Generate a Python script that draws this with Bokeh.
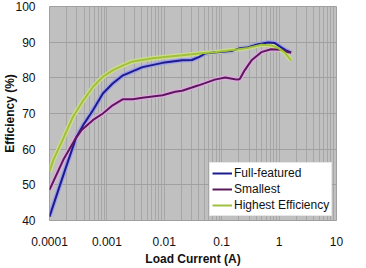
from bokeh.plotting import figure
from bokeh.models import FixedTicker, CustomJSTickFormatter, Legend, LegendItem, Range1d
from bokeh.embed import file_html
from bokeh.resources import INLINE

# Load current (A)
x_full = [0.0001, 0.000141, 0.000214, 0.000295, 0.000389, 0.000575, 0.000851, 0.00126,
          0.00191, 0.00417, 0.00933, 0.0204, 0.0302, 0.0398, 0.0513, 0.0759, 0.148,
          0.195, 0.288, 0.427, 0.646, 0.832, 1.07, 1.32, 1.62]
y_full = [41.1, 48.3, 57.0, 63.5, 66.8, 71.0, 75.6, 78.4,
          80.7, 83.0, 84.2, 84.9, 85.0, 85.8, 86.8, 87.1, 87.5,
          88.2, 88.6, 89.4, 89.9, 89.8, 88.6, 87.7, 87.1]

x_small = [0.0001, 0.000174, 0.000275, 0.000363, 0.000575, 0.000851, 0.00126, 0.00191,
           0.00282, 0.00417, 0.00933, 0.0155, 0.0204, 0.0398, 0.0759, 0.115, 0.170,
           0.195, 0.209, 0.251, 0.331, 0.490, 0.724, 1.07, 1.41, 1.62]
y_small = [48.6, 57.0, 62.6, 65.4, 68.2, 70.0, 72.3, 74.0,
           74.0, 74.4, 75.1, 76.1, 76.4, 77.9, 79.5, 80.1, 79.6,
           79.5, 79.8, 82.1, 84.9, 87.2, 88.0, 87.9, 87.2, 87.1]

x_high = [0.0001, 0.000117, 0.000174, 0.000257, 0.000389, 0.000575, 0.000851, 0.00126,
          0.00191, 0.00282, 0.00631, 0.0204, 0.0398, 0.0759, 0.170, 0.288, 0.490,
          0.724, 0.955, 1.23, 1.62]
y_high = [53.7, 57.0, 63.0, 69.1, 73.7, 77.5, 80.3, 82.1,
          83.5, 84.6, 85.5, 86.3, 86.8, 87.2, 87.9, 88.4, 89.3,
          89.1, 88.4, 87.2, 84.9]

x_ticks = [0.0001, 0.001, 0.01, 0.1, 1, 10]
y_ticks = [40, 50, 60, 70, 80, 90, 100]
x_minor = [m * d for d in [0.0001, 0.001, 0.01, 0.1, 1] for m in range(2, 10)]

series = [
    ("Full-featured", x_full, y_full, "#1c1c8c", "#9a9af0"),
    ("Smallest", x_small, y_small, "#5a1a5a", "#e6a6e6"),
    ("Highest Efficiency", x_high, y_high, "#a0c040", "#d0e084"),
]

FONT = "Liberation Sans"

p = figure(width=366, height=268, x_axis_type="log",
           x_range=Range1d(0.0001, 10), y_range=Range1d(40, 100),
           output_backend="svg", toolbar_location=None,
           min_border_left=46, min_border_right=30, min_border_top=6, min_border_bottom=47)

p.background_fill_color = "#c0c0c0"
p.border_fill_color = "white"
p.outline_line_color = "#a0a0a0"

p.xaxis.ticker = FixedTicker(ticks=x_ticks, minor_ticks=x_minor)
p.xaxis.formatter = CustomJSTickFormatter(code="return Number(tick.toPrecision(6)).toString();")
p.yaxis.ticker = FixedTicker(ticks=y_ticks)

for ax in (p.xaxis[0], p.yaxis[0]):
    ax.axis_line_color = None
    ax.major_tick_line_color = None
    ax.minor_tick_line_color = None
    ax.major_label_text_font = FONT
    ax.major_label_text_font_size = "12px"
    ax.major_label_text_color = "#111111"
    ax.axis_label_text_font = FONT
    ax.axis_label_text_font_size = "12px"
    ax.axis_label_text_font_style = "bold"
    ax.axis_label_text_color = "#111111"

p.xaxis.axis_label = "Load Current (A)"
p.yaxis.axis_label = "Efficiency (%)"
p.xaxis.major_label_standoff = 10
p.xaxis.axis_label_standoff = 3
p.yaxis.major_label_standoff = 8
p.yaxis.axis_label_standoff = -5

p.xgrid.grid_line_color = "#a6a6a6"
p.xgrid.minor_grid_line_color = "#a6a6a6"
p.ygrid.grid_line_color = "#a0a0a0"

items = []
for name, xs, ys, col, halo in series:
    p.line(xs, ys, line_color=halo, line_width=4.5, line_alpha=0.9)
for name, xs, ys, col, halo in series:
    r = p.line(xs, ys, line_color=col, line_width=2)
    items.append(LegendItem(label=name, renderers=[r]))

legend = Legend(items=items, location=(160, 4))
legend.label_text_font = FONT
legend.label_text_font_size = "12px"
legend.label_text_color = "#111111"
legend.glyph_width = 20
legend.glyph_height = 16
legend.label_height = 16
legend.label_standoff = 2
legend.spacing = 0
legend.padding = 2
legend.margin = 0
legend.background_fill_color = "white"
legend.background_fill_alpha = 1
legend.border_line_color = "#d0d0d0"
p.add_layout(legend)

open("out.html", "w").write(file_html(p, INLINE))
